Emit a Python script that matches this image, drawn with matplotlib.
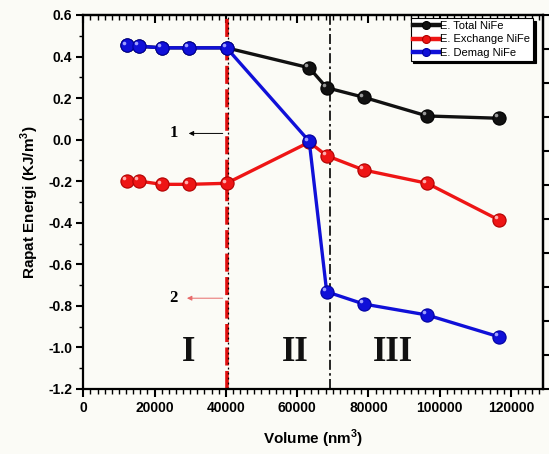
import matplotlib
matplotlib.use("Agg")
import matplotlib.pyplot as plt
from matplotlib.ticker import MultipleLocator, NullFormatter
from matplotlib.transforms import ScaledTranslation

# ---- data ----
vol_all = [12200, 15500, 22000, 29700, 40200, 63400, 68300, 78700, 96500, 116700]
e_total = [0.454, 0.450, 0.442, 0.442, 0.442, 0.346, 0.250, 0.204, 0.114, 0.103]
e_exchange = [-0.199, -0.199, -0.215, -0.215, -0.210, -0.012, -0.077, -0.146, -0.210, -0.387]
e_demag = [0.454, 0.450, 0.442, 0.442, 0.442, -0.008, -0.732, -0.791, -0.844, -0.949]
series_names = ["E. Total NiFe", "E. Exchange NiFe", "E. Demag NiFe"]
boundary_1 = 40200
boundary_2 = 69200
region_labels = ["I", "II", "III"]
region_x = [29400, 59400, 87000]
region_y = -1.025
xticks = [0, 20000, 40000, 60000, 80000, 100000, 120000]
yticks = [-1.2, -1.0, -0.8, -0.6, -0.4, -0.2, 0.0, 0.2, 0.4, 0.6]

W, H = 549, 454
fig = plt.figure(figsize=(W / 100, H / 100), dpi=100)
fig.patch.set_facecolor("#fbfbf6")
ax = fig.add_axes([83.3 / W, 1 - 389 / H, (543 - 83.3) / W, (389 - 15) / H])
ax.set_facecolor("#fbfbf6")

sans = ["Liberation Sans", "DejaVu Sans"]
serif = ["Liberation Serif", "DejaVu Serif"]

# vertical boundaries
ax.axvline(boundary_1, color="#e01010", lw=2.6, ls=(0, (5, 1.5)), zorder=1)
ax.axvline(boundary_1 + 300, color="black", lw=0.9, ls=(0, (1.5, 2.5)), zorder=1.1)
ax.axvline(boundary_2, color="black", lw=1.2, ls=(0, (6, 2, 1.5, 2)), zorder=1)

mk = dict(marker="o", markersize=9.5, lw=2.4)
colors = ["#111111", "#ee1515", "#1010d8"]
edge = ["#000000", "#b00000", "#0000a0"]
hilite = ["#9a9a9a", "#ffb0b0", "#a0a0ff"]
hl_tr = ax.transData + ScaledTranslation(-2 / 72, 2 / 72, fig.dpi_scale_trans)
for vals, c, ec, hc, name, z in zip([e_total, e_exchange, e_demag], colors, edge,
                                    hilite, series_names, [3, 4, 5]):
    ax.plot(vol_all, vals, color=c, markerfacecolor=c, markeredgecolor=ec,
            markeredgewidth=0.8, label=name, zorder=z, **mk)
    ax.plot(vol_all, vals, ls="none", marker="o", markersize=2.6,
            markerfacecolor=hc, markeredgewidth=0, transform=hl_tr, zorder=z + 0.1)

# annotations
ax.annotate("", xy=(28800, 0.03), xytext=(boundary_1 - 300, 0.03),
            arrowprops=dict(arrowstyle="-|>", color="black", lw=0.7,
                            mutation_scale=7), zorder=6)
ax.text(25400, 0.03, "1", fontsize=12, fontweight="bold", family=serif,
        ha="center", va="center")
ax.annotate("", xy=(28300, -0.763), xytext=(boundary_1 - 300, -0.763),
            arrowprops=dict(arrowstyle="-|>", color="#e86a6a", lw=0.7,
                            mutation_scale=7), zorder=6)
ax.text(25200, -0.763, "2", fontsize=12, fontweight="bold", family=serif,
        ha="center", va="center")

for lab, xx in zip(region_labels, region_x):
    ax.text(xx, region_y, lab, fontsize=25, fontweight="bold", family=serif,
            ha="center", va="center", color="#111111")

ax.set_xlim(0, 129000)
ax.set_ylim(-1.2, 0.6)
ax.set_xticks(xticks)
ax.set_yticks(yticks)
ax.xaxis.set_minor_locator(MultipleLocator(2000))
ax.yaxis.set_minor_locator(MultipleLocator(0.1))
ax.set_xticklabels([str(v) for v in xticks], fontsize=10, fontweight="bold", family=sans)
ax.set_yticklabels([f"{v:.1f}" for v in yticks], fontsize=10, fontweight="bold", family=sans)
ax.tick_params(axis="x", which="major", direction="out", length=6, width=1.5, pad=3)
ax.tick_params(axis="x", which="minor", direction="out", length=3.5, width=1.0)
ax.tick_params(axis="y", which="major", direction="out", length=5, width=1.5, pad=3)
ax.tick_params(axis="y", which="minor", direction="out", length=3, width=1.0)
for s in ax.spines.values():
    s.set_linewidth(1.6)

# top axis with inward ticks
top = ax.secondary_xaxis("top")
top.set_xticks(xticks)
top.xaxis.set_minor_locator(MultipleLocator(2000))
top.xaxis.set_major_formatter(NullFormatter())
top.tick_params(which="major", direction="in", length=6, width=1.5)
top.tick_params(which="minor", direction="in", length=3.5, width=1.0)
top.spines["top"].set_linewidth(1.6)

# right axis with outward ticks (labels cut off in reference)
rax = ax.twinx()
rax.set_ylim(0, 11)
rax.set_yticks(range(0, 12))
rax.yaxis.set_major_formatter(NullFormatter())
rax.tick_params(axis="y", direction="out", length=7, width=1.5)
for k, s in rax.spines.items():
    s.set_visible(k == "right")
    s.set_linewidth(1.6)

ax.set_xlabel("Volume (nm$^{\\mathregular{3}}$)", fontsize=11, fontweight="bold",
              family=sans, labelpad=9)
ax.set_ylabel("Rapat Energi (KJ/m$^{\\mathregular{3}}$)", fontsize=11, fontweight="bold",
              family=sans, labelpad=5)

leg = ax.legend(loc="upper right", bbox_to_anchor=(0.978, 0.991), borderaxespad=0,
                prop={"family": sans, "size": 8}, fancybox=False, framealpha=1,
                edgecolor="black", handlelength=2.3, handletextpad=0.1,
                borderpad=0.25, labelspacing=0.3, markerscale=0.6,
                shadow={"color": "black", "alpha": 1})
leg.get_frame().set_linewidth(0.8)
leg.set_zorder(10)
for ln in leg.get_lines():
    ln.set_linewidth(3.2)

fig.savefig("out.png", dpi=100, facecolor=fig.get_facecolor())
